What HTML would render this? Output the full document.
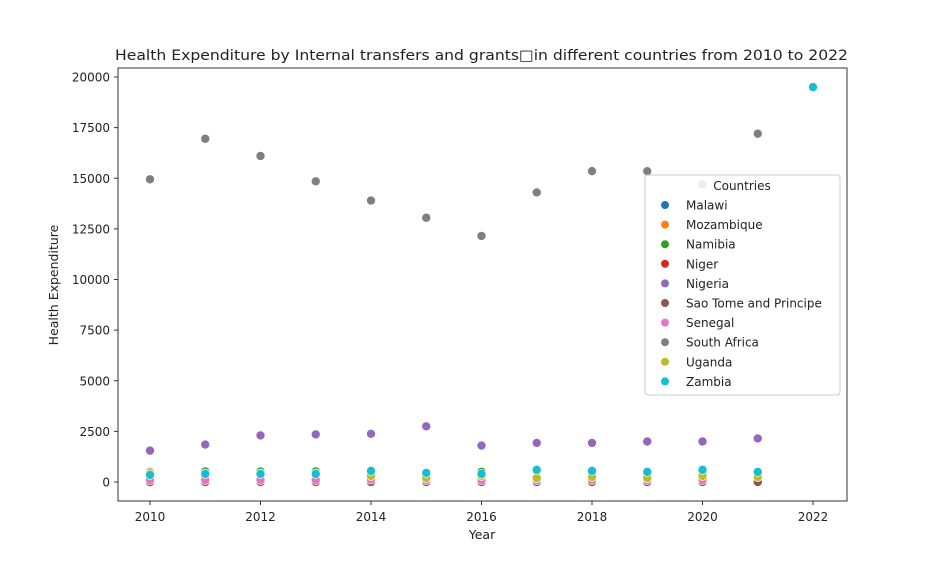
<!DOCTYPE html>
<html><head><meta charset="utf-8"><style>
body{margin:0;background:#fff;}
svg text{font-family:"DejaVu Sans","Liberation Sans",sans-serif;fill:#222;}
</style></head><body>
<svg id="chart" width="940" height="564" xmlns="http://www.w3.org/2000/svg">
<rect width="940" height="564" fill="#fff"/>
<text x="115" y="60" font-size="14.5" textLength="733" lengthAdjust="spacingAndGlyphs">Health Expenditure by Internal transfers and grants□in different countries from 2010 to 2022</text>
<g id="marks"></g>
<rect x="118" y="68" width="729" height="433" fill="none" stroke="#333" stroke-width="1"/>
<g id="axes"></g>
<text x="482" y="539" text-anchor="middle" font-size="12.5">Year</text>
<text transform="translate(58,285) rotate(-90)" text-anchor="middle" font-size="12.5">Health Expenditure</text>
<g id="legend"></g>
</svg>
<script>
const years=[2010,2011,2012,2013,2014,2015,2016,2017,2018,2019,2020,2021];
const countries=["Malawi","Mozambique","Namibia","Niger","Nigeria","Sao Tome and Principe","Senegal","South Africa","Uganda","Zambia"];
const colors=["#1f77b4","#ff7f0e","#2ca02c","#d62728","#9467bd","#8c564b","#e377c2","#7f7f7f","#bcbd22","#17becf"];
const malawi=[50,60,60,60,60,50,50,60,60,50,60,60];
const mozambique=[150,150,150,150,150,150,150,150,150,150,150,150];
const namibia=[500,520,520,520,450,420,500,550,450,450,500,450];
const niger=[20,20,20,20,20,20,20,20,20,20,20,20];
const nigeria=[1550,1850,2300,2350,2380,2750,1800,1930,1930,2000,2000,2150];
const saoTome=[0,0,0,0,0,0,0,0,0,0,0,0];
const senegal=[100,100,100,100,120,100,100,100,100,100,100,250];
const southAfrica=[14950,16950,16100,14850,13900,13050,12150,14300,15350,15350,14700,17200];
const uganda=[450,420,420,420,300,200,300,200,250,200,300,250];
const zambia=[350,400,400,400,550,450,400,600,550,500,600,500];
const zambiaExtraYear=2022, zambiaExtraValue=19500;
const series=[malawi,mozambique,namibia,niger,nigeria,saoTome,senegal,southAfrica,uganda,zambia];
const xTicks=[2010,2012,2014,2016,2018,2020,2022];
const yTicks=[0,2500,5000,7500,10000,12500,15000,17500,20000];
const xS=v=>150+(v-2010)*(813-150)/12;
const yS=v=>482-v*(482-77)/20000;
const NS="http://www.w3.org/2000/svg";
function mk(t,p,a){const e=document.createElementNS(NS,t);for(const k in a)e.setAttribute(k,a[k]);p.appendChild(e);return e;}
const marks=document.getElementById('marks');
series.forEach((s,i)=>{s.forEach((v,j)=>{
 const c=mk('circle',marks,{cx:xS(years[j]),cy:yS(v),r:4.5,fill:colors[i],stroke:'#fff','stroke-width':0.6});
 
 
});});
const zc=mk('circle',marks,{cx:xS(zambiaExtraYear),cy:yS(zambiaExtraValue),r:4.5,fill:colors[9],stroke:'#fff','stroke-width':0.6});


const ax=document.getElementById('axes');
xTicks.forEach(t=>{const x=xS(t);
 mk('line',ax,{x1:x,x2:x,y1:501,y2:505,stroke:'#333'});
 const tx=mk('text',ax,{x:x,y:521,'text-anchor':'middle','font-size':12});tx.textContent=t;
 
 
});
yTicks.forEach(t=>{const y=yS(t);
 mk('line',ax,{x1:114,x2:118,y1:y,y2:y,stroke:'#333'});
 const tx=mk('text',ax,{x:110,y:y+4.5,'text-anchor':'end','font-size':12});tx.textContent=t;
 
 
});
const lg=document.getElementById('legend');


mk('rect',lg,{x:645,y:175,width:195,height:220,fill:'#fff','fill-opacity':0.85,stroke:'#ccc',rx:3});
const lt=mk('text',lg,{x:742,y:190,'text-anchor':'middle','font-size':12});lt.textContent='Countries';
countries.forEach((c,i)=>{const y=205+i*19.6;
 const g=mk('g',lg,{});
 
 
 mk('circle',g,{cx:665,cy:y,r:4,fill:colors[i]});
 const t=mk('text',g,{x:686,y:y+4.5,'font-size':12});t.textContent=c;
});
</script>
</body></html>
